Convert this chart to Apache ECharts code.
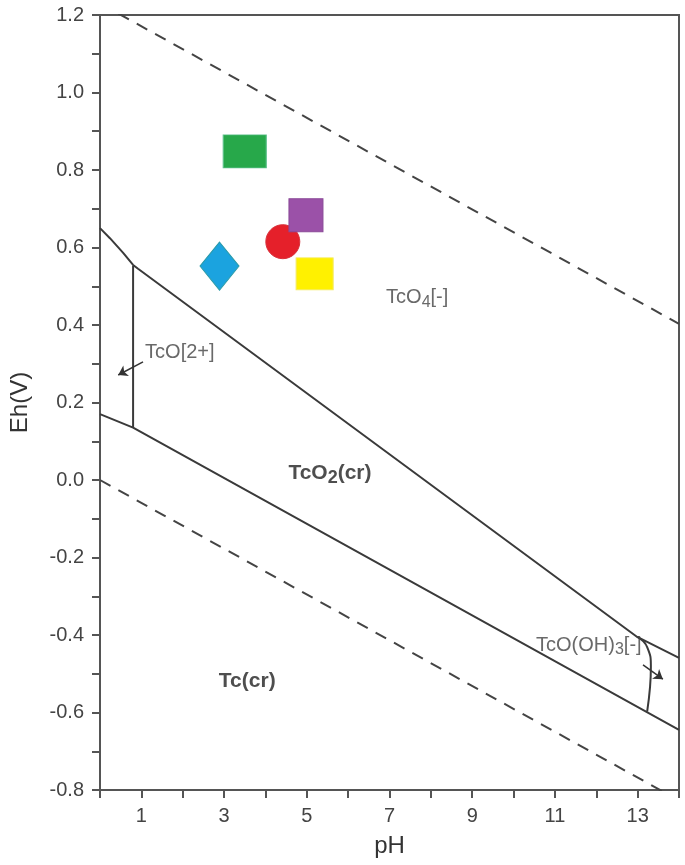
<!doctype html>
<html>
<head>
<meta charset="utf-8">
<title>Tc Eh-pH diagram</title>
<style>
  html, body { margin: 0; padding: 0; background: #fff; }
  #main { width: 685px; height: 865px; }
</style>
</head>
<body>
<div id="main"></div>
<script src="https://cdn.jsdelivr.net/npm/echarts@6/dist/echarts.min.js"></script>
<script>
// water stability limits (dashed)
var upperWater = [[0, 1.23], [14, 0.403]];
var lowerWater = [[0, 0], [14, -0.827]];

// species boundaries
var tcO4Boundary = [[0, 0.65], [0.24, 0.624], [0.56, 0.586], [0.8, 0.555], [0.92, 0.545], [12.99, -0.405], [14, -0.459]];
var tcBoundary = [[0, 0.17], [0.8, 0.135], [14, -0.645]];
var tcO2plusBoundary = [[0.8, 0.553], [0.8, 0.135]];
var tcOOH3Boundary = [[12.99, -0.405], [13.23, -0.431], [13.32, -0.483], [13.30, -0.534], [13.23, -0.598]];

// arrows for the small fields
var arrowTcO2plus = [[1.04, 0.305], [0.44, 0.271]];
var arrowTcOOH3 = [[13.13, -0.477], [13.61, -0.514]];

// field labels
var fieldNames = ['TcO{sub|4}[-]', 'TcO[2+]', '{b|TcO}{bsub|2}{b|(cr)}', '{b|Tc(cr)}', 'TcO(OH){sub|3}[-]'];
var fieldPH = [7.67, 1.93, 5.56, 3.56, 11.82];
var fieldEh = [0.47, 0.328, 0.018, -0.519, -0.426];

// measured samples
var samplePH = [3.50, 4.42, 4.98, 5.19, 2.89];
var sampleEh = [0.848, 0.615, 0.683, 0.532, 0.552];
var sampleSymbols = ['rect', 'circle', 'rect', 'rect', 'diamond'];
var sampleColors = ['#27a84a', '#e5202a', '#9b51a8', '#fff100', '#1ba3df'];
var sampleBorders = ['#5cc08a', '#d8303a', '#8a4a98', '#f4ea60', '#2a9aa8'];
var sampleSizes = [[43, 33], [34, 34], [34, 33], [37, 32], [39, 48]];

var axisColor = '#555';
var lineColor = '#3a3a3a';

function lineSeries(data, dashed, smooth) {
    return {
        type: 'line',
        data: data,
        symbol: 'none',
        smooth: smooth || false,
        silent: true,
        lineStyle: { color: dashed ? '#444' : lineColor, width: 2, type: dashed ? [12, 9] : 'solid' },
        z: 2
    };
}

function arrowSeries(pts) {
    return {
        type: 'line',
        data: [],
        silent: true,
        markLine: {
            silent: true,
            symbol: ['none', 'arrow'],
            symbolSize: 9,
            label: { show: false },
            lineStyle: { color: '#333', width: 1.5, type: 'solid' },
            data: [[{ coord: pts[0] }, { coord: pts[1] }]]
        }
    };
}

var chart = echarts.init(document.getElementById('main'), null, { renderer: 'canvas' });

var series = [
    lineSeries(upperWater, true),
    lineSeries(lowerWater, true),
    lineSeries(tcO4Boundary, false),
    lineSeries(tcBoundary, false),
    lineSeries(tcO2plusBoundary, false),
    lineSeries(tcOOH3Boundary, false, true),
    arrowSeries(arrowTcO2plus),
    arrowSeries(arrowTcOOH3),
    {
        type: 'scatter',
        silent: true,
        symbolSize: 1,
        itemStyle: { color: 'transparent' },
        data: fieldPH.map(function (p, i) { return [p, fieldEh[i], fieldNames[i]]; }),
        label: {
            show: true,
            position: 'inside',
            formatter: function (p) { return p.data[2]; },
            color: '#444',
            fontFamily: 'Liberation Sans',
            fontSize: 20,
            rich: {
                sub: { fontSize: 16, padding: [10, 0, 0, 0], color: '#444', fontFamily: 'Liberation Sans' },
                b: { fontSize: 21, fontWeight: 'bold', color: '#222', fontFamily: 'Liberation Sans' },
                bsub: { fontSize: 18, fontWeight: 'bold', padding: [11, 0, 0, 0], color: '#222', fontFamily: 'Liberation Sans' }
            }
        },
        z: 3
    }
];

samplePH.forEach(function (p, i) {
    series.push({
        type: 'scatter',
        silent: true,
        symbol: sampleSymbols[i],
        symbolSize: sampleSizes[i],
        itemStyle: { color: sampleColors[i], opacity: 1, borderColor: sampleBorders[i], borderWidth: 1 },
        data: [[p, sampleEh[i]]],
        z: 4
    });
});

chart.setOption({
    animation: false,
    backgroundColor: '#fff',
    grid: {
        left: 100, right: 6, top: 15, bottom: 75,
        show: true, borderColor: axisColor, borderWidth: 2
    },
    xAxis: {
        type: 'value',
        min: 0, max: 14, interval: 1,
        name: 'pH',
        nameLocation: 'middle',
        nameGap: 44,
        nameTextStyle: { fontSize: 24, color: '#333', fontFamily: 'Liberation Sans' },
        axisLine: { onZero: false, lineStyle: { color: axisColor, width: 2 } },
        axisTick: { inside: false, length: 8, lineStyle: { color: axisColor, width: 2 } },
        axisLabel: {
            margin: 16,
            fontSize: 20, color: '#444', fontFamily: 'Liberation Sans',
            formatter: function (v) { return v % 2 === 1 ? String(v) : ''; }
        },
        splitLine: { show: false }
    },
    yAxis: {
        type: 'value',
        min: -0.8, max: 1.2, interval: 0.1,
        name: 'Eh(V)',
        nameLocation: 'middle',
        nameGap: 68,
        nameTextStyle: { fontSize: 24, color: '#333', fontFamily: 'Liberation Sans' },
        axisLine: { show: true, onZero: false, lineStyle: { color: axisColor, width: 2 } },
        axisTick: { show: true, inside: false, length: 8, lineStyle: { color: axisColor, width: 2 } },
        axisLabel: {
            margin: 16,
            fontSize: 20, color: '#444', fontFamily: 'Liberation Sans',
            formatter: function (v) {
                var k = Math.round(v * 10);
                return k % 2 === 0 ? (k / 10).toFixed(1) : '';
            }
        },
        splitLine: { show: false }
    },
    series: series
});

window.onresize = chart.resize;
</script>
</body>
</html>
